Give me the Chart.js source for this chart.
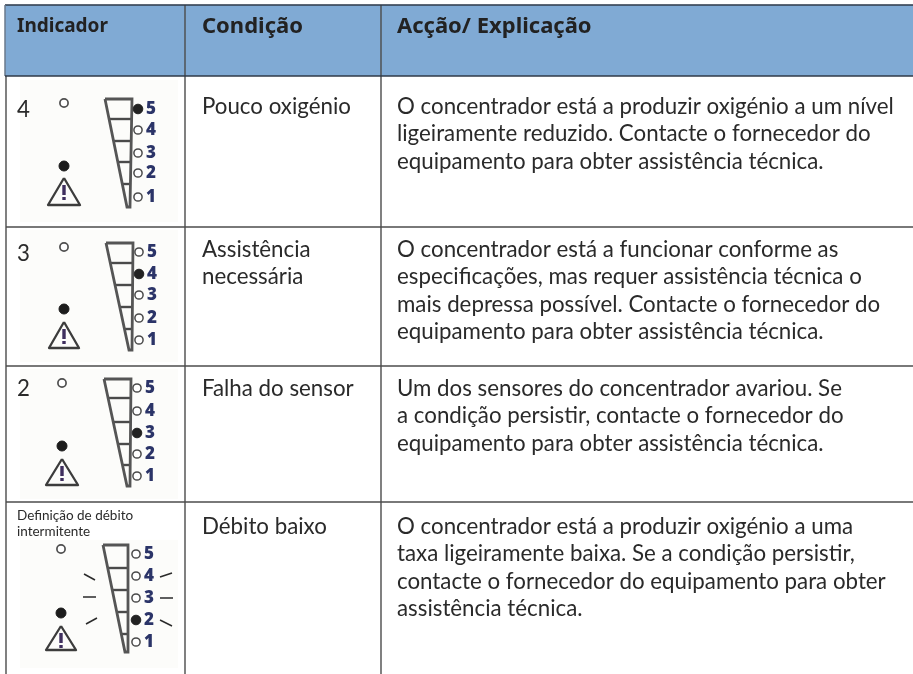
<!DOCTYPE html>
<html lang="pt"><head><meta charset="utf-8"><title>Indicador</title>
<style>html,body{margin:0;padding:0;background:#fff}canvas{display:block}</style>
<script src="https://cdn.jsdelivr.net/npm/chart.js@4"></script></head>
<body><canvas id="c" width="913" height="674"></canvas>
<script>
const headers = ['Indicador','Condição','Acção/ Explicação'];
const indicators = ['4','3','2',''];
const conditions = [['Pouco oxigénio'],['Assistência','necessária'],['Falha do sensor'],['Débito baixo']];
const actions = [
 ['O concentrador está a produzir oxigénio a um nível','ligeiramente reduzido. Contacte o fornecedor do','equipamento para obter assistência técnica.'],
 ['O concentrador está a funcionar conforme as','especificações, mas requer assistência técnica o','mais depressa possível. Contacte o fornecedor do','equipamento para obter assistência técnica.'],
 ['Um dos sensores do concentrador avariou. Se','a condição persistir, contacte o fornecedor do','equipamento para obter assistência técnica.'],
 ['O concentrador está a produzir oxigénio a uma','taxa ligeiramente baixa. Se a condição persistir,','contacte o fornecedor do equipamento para obter','assistência técnica.']
];
const smallNote = ['Definição de débito','intermitente'];
const levels = ['5','4','3','2','1'];
const activeLevel = ['5','4','3','2'];
const firstBaseline = [114,257,396,534];
const indicatorBaseline = [117,261,396];
const rowLines = [76,227,366,502];
const colLines = [6,185,381];
const panelTop = [80,230,369,540];
const panelBottom = [222,362,499,668];
const wedgeLeft = [105,106,104,103];
const wedgeRight = [132,133,131,128];
const wedgeTipX = [127,129,127,125];
const wedgeTop = [99,243,379,545];
const wedgeBottom = [207,350,486,652];
const wedgeBars = [[119,141,162,184],[263,285,307,329],[398,422,444,465],[568,590,612,634]];
const ledX = [138,139,137,136];
const ledY = [[109,130,153,173,197],[252,274,295,318,340],[388,411,433,454,476],[554,576,598,620,642]];
const alarmX = [64,64,62,61];
const topLedY = [103,247,383,549];
const alarmLedY = [166,309,446,613];
const triTop = [178,322,459,626];
const triBase = [205,348,485,650];
const triHalf = [16,15,16,15];
const blinkTicks = [[[84,574],[95,580]],[[83,597],[96,597]],[[86,624],[97,618]],[[160,577],[172,573]],[[160,598],[173,598]],[[160,620],[172,626]]];

const datasets = [];
const GRID='#4c4c4c';
function poly(pts,color,w,extra){datasets.push(Object.assign({type:'scatter',showLine:true,data:pts.map(p=>({x:p[0],y:p[1]})),borderColor:color,borderWidth:w,pointRadius:0,fill:false,clip:false,borderJoinStyle:'miter',borderCapStyle:'butt'},extra||{}));}
function leds(pts,fill,border,r,bw){datasets.push({type:'scatter',data:pts.map(p=>({x:p[0],y:p[1]})),pointRadius:r,pointBackgroundColor:fill,pointBorderColor:border,pointBorderWidth:bw,clip:false,showLine:false});}

// Chart.js paints the first dataset last, so the top layers come first here.
poly([[5,76],[913,76]],'#2f3a48',1.5);
poly([[5,5],[5,76]],'#6a7a8c',1.5);
poly([[5,5],[913,5]],'#2f3a48',1.5);
colLines.slice(1).forEach(x=>poly([[x,5],[x,674]],GRID,1.4));
poly([[5,5],[913,5]],'#80aad4',0.5,{fill:{target:{value:76}},backgroundColor:'#80aad4'});
rowLines.slice(1).forEach(y=>poly([[6,y],[913,y]],GRID,1.3));
poly([[colLines[0],76],[colLines[0],674]],GRID,1.4);

indicators.forEach((_,i)=>{
  const L=wedgeLeft[i],R=wedgeRight[i],T=wedgeTop[i],B=wedgeBottom[i],X=wedgeTipX[i];
  const pts=ledY[i].map((y,k)=>[ledX[i],y,levels[k]]);
  leds(pts.filter(p=>p[2]===activeLevel[i]),'#222222','#222222',4.8,1);
  leds(pts.filter(p=>p[2]!==activeLevel[i]),'#ffffff','#4a4a4a',4.1,1.5);
  poly([[L,T],[R,T],[X+3,B],[X,B],[L,T]],'#555555',2.8);
  wedgeBars[i].forEach(y=>{const f=(y-T)/(B-T);poly([[L+(X-L)*f,y],[R+(X+3-R)*f,y]],'#4a4a4a',2.4);});
  const ax=alarmX[i],h=triHalf[i];
  leds([[ax,topLedY[i]]],'#ffffff','#4f4f4f',4.1,1.7);
  leds([[ax,alarmLedY[i]]],'#1c1c1c','#1c1c1c',5,1);
  poly([[ax,triTop[i]+7],[ax,triTop[i]+17]],'#3f2f5e',3.4);
  poly([[ax,triTop[i]+19],[ax,triTop[i]+22]],'#3f2f5e',3.4);
  poly([[ax,triTop[i]],[ax+h,triBase[i]],[ax-h,triBase[i]],[ax,triTop[i]]],'#3c3c3c',2.3,{borderJoinStyle:'round'});
});
blinkTicks.forEach(t=>poly(t,'#2a2a2a',1.5));
panelTop.forEach((t,i)=>poly([[20,t],[178,t]],'#fcfcfa',0.5,{fill:{target:{value:panelBottom[i]}},backgroundColor:'#fcfcfa'}));

const BODY='Lato';
const tablePlugin={id:'tableText',afterDatasetsDraw(chart){
  const c=chart.ctx,sx=chart.scales.x,sy=chart.scales.y;
  const put=(t,x,y)=>c.fillText(t,sx.getPixelForValue(x),sy.getPixelForValue(y));
  c.save();c.textBaseline='alphabetic';c.textAlign='left';c.fillStyle='#222222';
  c.font='bold 19px "Noto Sans"';
  put(headers[0],17,32);
  c.font='bold 22px "Noto Sans"';
  put(headers[1],202,33);put(headers[2],397,33);
  c.fillStyle='#2a2a2a';
  c.font='22.3px '+BODY;
  actions.forEach((ls,i)=>ls.forEach((t,k)=>put(t,397,firstBaseline[i]+k*27.4)));
  conditions.forEach((ls,i)=>ls.forEach((t,k)=>put(t,202,firstBaseline[i]+k*27.4)));
  indicators.forEach((t,i)=>{if(t)put(t,17,indicatorBaseline[i]);});
  c.font='13.5px '+BODY;
  put(smallNote[0],17,520);put(smallNote[1],17,536);
  c.font='900 17px "Noto Sans"';c.fillStyle='#2b3468';c.textBaseline='middle';c.textAlign='center';
  ledY.forEach((ys,i)=>ys.forEach((y,k)=>put(levels[k],ledX[i]+13,y)));
  c.restore();
}};
new Chart(document.getElementById('c'),{
 data:{datasets},
 plugins:[tablePlugin],
 options:{responsive:false,animation:false,events:[],layout:{padding:0,autoPadding:false},
  plugins:{legend:{display:false},tooltip:{enabled:false},title:{display:false}},
  scales:{x:{type:'linear',min:0,max:913,display:false},y:{type:'linear',min:0,max:674,reverse:true,display:false}}}
});
</script></body></html>
